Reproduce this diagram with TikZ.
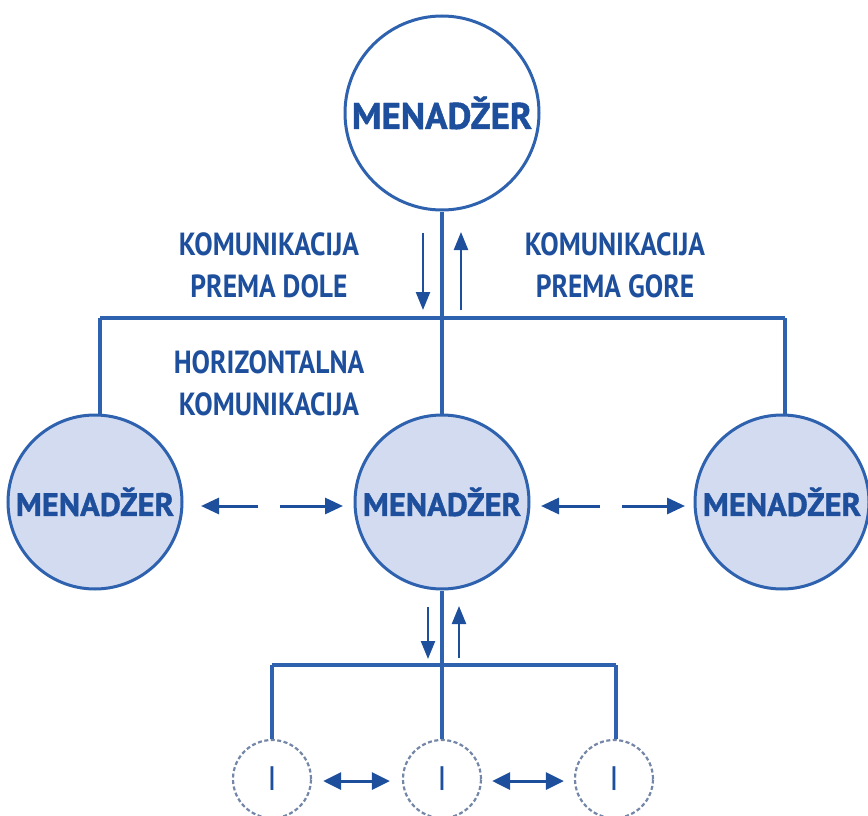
\documentclass[tikz,border=0pt]{standalone}
\usepackage{fontspec}
\setmainfont{PT Sans}
\newfontfamily\lblfont[FakeStretch=0.86]{PT Sans Bold}
\newfontfamily\mgrfont[FakeBold=1.2]{PT Sans Bold}
\newfontfamily\wfont{PT Sans}
\usetikzlibrary{arrows.meta}
\definecolor{lineblue}{HTML}{2E62AE}
\definecolor{textblue}{HTML}{1E4F9C}
\definecolor{fillblue}{HTML}{D3DBF1}
\definecolor{dashgray}{HTML}{7587A8}
\tikzset{
  conn/.style={draw=lineblue, line width=3.2pt},
  flow/.style={draw=textblue, line width=2.4pt, -{Triangle[length=18pt 0,width=14pt 0]}},
  hflow/.style={draw=textblue, line width=3pt, -{Triangle[length=18pt 0,width=16pt 0]}},
  twoway/.style={draw=textblue, line width=3pt, {Triangle[length=18pt 0,width=17pt 0]}-{Triangle[length=18pt 0,width=17pt 0]}},
  topmgr/.style={circle, draw=lineblue, line width=3pt, fill=white, minimum size=194pt, inner sep=0pt, text=textblue, font=\mgrfont\fontsize{37}{40}\selectfont},
  midmgr/.style={circle, draw=lineblue, line width=3pt, fill=fillblue, minimum size=174pt, inner sep=0pt, text=textblue, font=\mgrfont\fontsize{32.5}{36}\selectfont},
  worker/.style={circle, draw=dashgray, line width=2.2pt, dash pattern=on 4pt off 2.5pt, fill=white, minimum size=78pt, inner sep=0pt, text=textblue, font=\wfont\fontsize{34}{38}\selectfont},
  lbl/.style={text=textblue, align=center, font=\lblfont\fontsize{32}{42}\selectfont, inner sep=0pt}
}
\begin{document}
\begin{tikzpicture}[x=1pt,y=-1pt]
\useasboundingbox (0,0) rectangle (868,816);
% nodes
\node[topmgr] (top) at (442,113) {MENADŽER};
\node[midmgr] (left) at (95,502) {MENADŽER};
\node[midmgr] (mid) at (442,502) {MENADŽER};
\node[midmgr] (right) at (782,502) {MENADŽER};
\node[worker] (w1) at (272,779) {I};
\node[worker] (w2) at (442,779) {I};
\node[worker] (w3) at (614,779) {I};
% junction coordinates
\coordinate (j1l) at (100,318);
\coordinate (j1r) at (785,318);
\coordinate (j2l) at (272,665);
\coordinate (j2r) at (616,665);
% connectors
\draw[conn] (top.south) -- (mid.north);
\draw[conn] (j1l) -- (j1r);
\draw[conn] (j1l) -- (j1l |- left.north);
\draw[conn] (j1r) -- (j1r |- right.north);
\draw[conn] (mid.south) -- (w2.north);
\draw[conn] (j2l) -- (j2r);
\draw[conn] (j2l) -- (w1.north);
\draw[conn] (j2r) -- (j2r |- w3.north);
% vertical arrows (upper)
\coordinate (d1s) at (423,233); \coordinate (d1e) at (423,310);
\coordinate (u1s) at (461,310); \coordinate (u1e) at (461,232);
\draw[flow] (d1s) -- (d1e);
\draw[flow] (u1s) -- (u1e);
% vertical arrows (lower)
\coordinate (d2s) at (428,607); \coordinate (d2e) at (428,659);
\coordinate (u2s) at (459,658); \coordinate (u2e) at (459,606);
\draw[flow] (d2s) -- (d2e);
\draw[flow] (u2s) -- (u2e);
% horizontal dashed two-way arrows between managers
\coordinate (h1a) at (201,506); \coordinate (h1b) at (258,506);
\coordinate (h1c) at (280,506); \coordinate (h1d) at (343,506);
\draw[hflow] (h1b) -- (h1a);
\draw[hflow] (h1c) -- (h1d);
\coordinate (h2a) at (541,506); \coordinate (h2b) at (600,506);
\coordinate (h2c) at (622,506); \coordinate (h2d) at (685,506);
\draw[hflow] (h2b) -- (h2a);
\draw[hflow] (h2c) -- (h2d);
% worker two-way arrows
\path (w1.east) ++(11,2) coordinate (wa1) (w2.west) ++(-12,2) coordinate (wb1);
\draw[twoway] (wa1) -- (wb1);
\path (w2.east) ++(10,2) coordinate (wa2) (w3.west) ++(-10,2) coordinate (wb2);
\draw[twoway] (wa2) -- (wb2);
% labels
\node[lbl] (ldown) at (269,265) {KOMUNIKACIJA\\PREMA DOLE};
\node[lbl] (lup) at (615,265) {KOMUNIKACIJA\\PREMA GORE};
\node[lbl] (lhor) at (269,383) {HORIZONTALNA\\KOMUNIKACIJA};
\end{tikzpicture}
\end{document}
